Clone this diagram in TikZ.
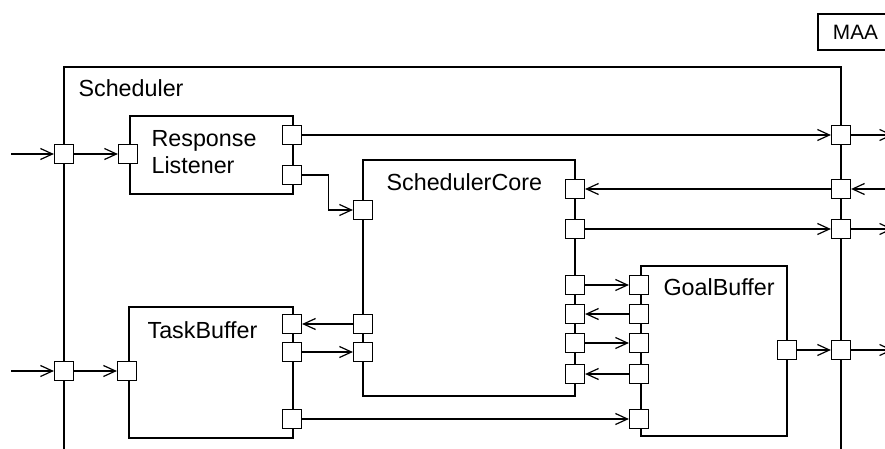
\documentclass[tikz,border=0pt]{standalone}
\usepackage{fontspec}
\setmainfont{Liberation Sans}
\usetikzlibrary{arrows.meta}

\begin{document}
\begin{tikzpicture}[
        x=1pt, y=-1pt, line width=1.2pt,
        box/.style={draw, inner sep=0pt},
        port/.style={draw, fill=white, minimum size=19pt, inner sep=0pt},
        lbl/.style={anchor=base west, inner sep=0pt, font=\fontsize{23.3}{26}\selectfont},
        flow/.style={-{Straight Barb[length=12pt,width=11pt]}}
      ]

      \useasboundingbox (0,0) rectangle (885,449);
      \clip (0,0) rectangle (885,449);

      % frames
      \draw (64,470) -- (64,67) -- (841,67) -- (841,470);
      \node[box, minimum width=75pt, minimum height=36pt, font=\fontsize{20.8}{24}\selectfont] (maa) at (855.5,32) {MAA};

      \node[box, minimum width=163pt, minimum height=78pt] (rl) at (211.5,155) {};
      \node[box, minimum width=164pt, minimum height=131pt] (tb) at (211,372.5) {};
      \node[box, minimum width=212pt, minimum height=236pt] (sc) at (469,278) {};
      \node[box, minimum width=146pt, minimum height=170pt] (gb) at (714,351) {};

      \node[lbl] (tSched) at (78,97) {Scheduler};
      \node[lbl, align=left] (tRl) at (151,173) {Response\\Listener};
      \node[lbl] (tTb) at (147,338) {TaskBuffer};
      \node[lbl] (tSc) at (386,190) {SchedulerCore};
      \node[lbl] (tGb) at (663,295) {GoalBuffer};

      % ports
      \node[port] (sL1) at (64,154) {};
      \node[port] (sL2) at (64,371) {};
      \node[port] (sR1) at (841,135) {};
      \node[port] (sR2) at (841,189) {};
      \node[port] (sR3) at (841,229) {};
      \node[port] (sR4) at (841,350) {};

      \node[port] (rlIn) at (128,154) {};
      \node[port] (rlO1) at (292,135) {};
      \node[port] (rlO2) at (292,175) {};

      \node[port] (tbIn) at (127,371) {};
      \node[port] (tbI) at (292,324) {};
      \node[port] (tbO) at (292,352) {};
      \node[port] (tbO2) at (292,419) {};

      \node[port] (scI1) at (363,210) {};
      \node[port] (scO) at (363,324) {};
      \node[port] (scI2) at (363,352) {};
      \node[port] (scR1) at (575,189) {};
      \node[port] (scR2) at (575,229) {};
      \node[port] (scR3) at (575,285) {};
      \node[port] (scR4) at (575,314) {};
      \node[port] (scR5) at (575,343) {};
      \node[port] (scR6) at (575,374) {};

      \node[port] (gbL1) at (639,285) {};
      \node[port] (gbL2) at (639,314) {};
      \node[port] (gbL3) at (639,343) {};
      \node[port] (gbL4) at (639,374) {};
      \node[port] (gbL5) at (639,419) {};
      \node[port] (gbR) at (787,350) {};

      \coordinate (in1) at (11,154);
      \coordinate (in2) at (11,371);
      \coordinate (out1) at (893,135);
      \coordinate (in3) at (893,189);
      \coordinate (out2) at (893,229);
      \coordinate (out3) at (893,350);

      % connectors
      \draw[flow] (in1) -- (sL1);
      \draw[flow] (sL1) -- (rlIn);
      \draw[flow] (in2) -- (sL2);
      \draw[flow] (sL2) -- (tbIn);

      \draw[flow] (rlO1) -- (sR1);
      \draw[flow] (rlO2.east) -- ++(26,0) |- (scI1);
      \draw[flow] (sR2) -- (scR1);
      \draw[flow] (scR2) -- (sR3);

      \draw[flow] (scO) -- (tbI);
      \draw[flow] (tbO) -- (scI2);
      \draw[flow] (tbO2) -- (gbL5);

      \draw[flow] (scR3) -- (gbL1);
      \draw[flow] (gbL2) -- (scR4);
      \draw[flow] (scR5) -- (gbL3);
      \draw[flow] (gbL4) -- (scR6);
      \draw[flow] (gbR) -- (sR4);

      \draw[flow] (sR1) -- (out1);
      \draw[flow] (in3) -- (sR2);
      \draw[flow] (sR3) -- (out2);
      \draw[flow] (sR4) -- (out3);

    \end{tikzpicture}
\end{document}
